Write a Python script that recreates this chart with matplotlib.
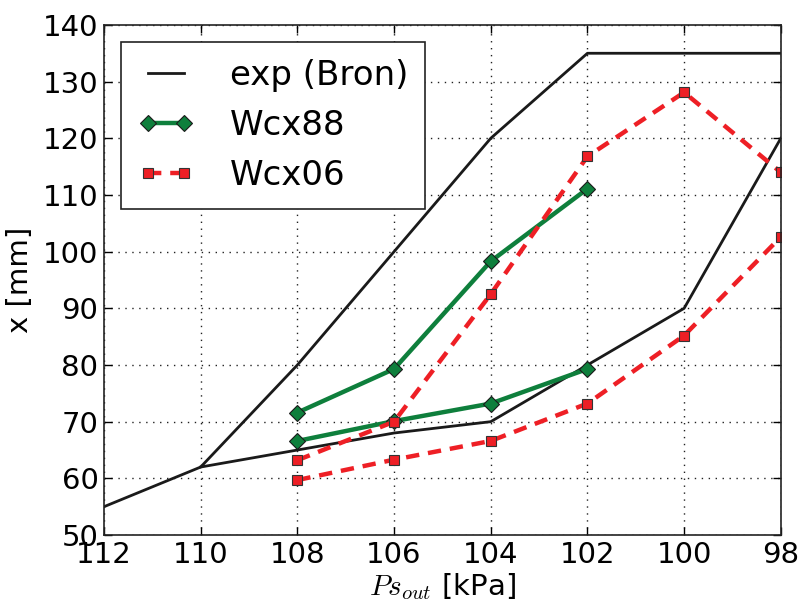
import matplotlib
matplotlib.use("Agg")
import matplotlib.pyplot as plt

plt.rcParams['font.family'] = ['DejaVu Sans']
plt.rcParams['mathtext.fontset'] = 'cm'

# exp (Bron) envelope
exp_up_x = [112, 110, 108, 106, 104, 102, 100, 98]
exp_up_y = [55, 62, 80, 100, 120, 135, 135, 135]
exp_lo_x = [110, 108, 106, 104, 102, 100, 98]
exp_lo_y = [62, 65, 68, 70, 80, 90, 120]

# Wcx88
w88_x = [108, 106, 104, 102]
w88_up = [71.6, 79.3, 98.3, 111.1]
w88_lo = [66.6, 70.1, 73.2, 79.3]

# Wcx06
w06_x = [108, 106, 104, 102, 100, 98]
w06_up = [63.2, 70.0, 92.5, 116.8, 128.1, 114.0]
w06_lo = [59.7, 63.3, 66.6, 73.2, 85.2, 102.6]

xticks = [112, 110, 108, 106, 104, 102, 100, 98]
yticks = [50, 60, 70, 80, 90, 100, 110, 120, 130, 140]

green = '#0e7f3c'
red = '#ee1f25'

fig = plt.figure(figsize=(8, 6.08), dpi=100)
ax = fig.add_axes([0.13, 0.12, 0.846, 0.839])

ax.plot(exp_up_x, exp_up_y, color='#1a1a1a', lw=2, label='exp (Bron)')
ax.plot(exp_lo_x, exp_lo_y, color='#1a1a1a', lw=2)
ax.plot(w88_x, w88_up, color=green, lw=3.2, marker='D', ms=8,
        mfc=green, mec='#1a1a1a', mew=0.8, label='Wcx88')
ax.plot(w88_x, w88_lo, color=green, lw=3.2, marker='D', ms=8,
        mfc=green, mec='#1a1a1a', mew=0.8)
ax.plot(w06_x, w06_up, color=red, lw=3.2, ls='--', dashes=(3, 2), marker='s', ms=7.5,
        mfc=red, mec='#333333', mew=0.8, label='Wcx06')
ax.plot(w06_x, w06_lo, color=red, lw=3.2, ls='--', dashes=(3, 2), marker='s', ms=7.5,
        mfc=red, mec='#333333', mew=0.8)

ax.set_xlim(112, 98)
ax.set_ylim(50, 140)
ax.set_xticks(xticks)
ax.set_yticks(yticks)
ax.tick_params(direction='in', top=True, right=True, labelsize=21, length=6, width=1, pad=4)
ax.grid(True, color='#222222', ls=(0, (1, 4)), lw=1)
for s in ax.spines.values():
    s.set_linewidth(1.2)
    s.set_color('#222222')

ax.set_xlabel(r'$Ps_{out}$ [kPa]', fontsize=21, labelpad=2)
ax.set_ylabel('x [mm]', fontsize=21, labelpad=6)

leg = ax.legend(loc='upper left', fontsize=24.5, numpoints=2, fancybox=False,
                framealpha=1, edgecolor='#222222', handlelength=1.65,
                borderpad=0.5, labelspacing=0.5, handletextpad=1.05,
                borderaxespad=0, bbox_to_anchor=(0.025, 0.967))
leg.get_frame().set_linewidth(1.2)

fig.savefig('out.png', dpi=100)
